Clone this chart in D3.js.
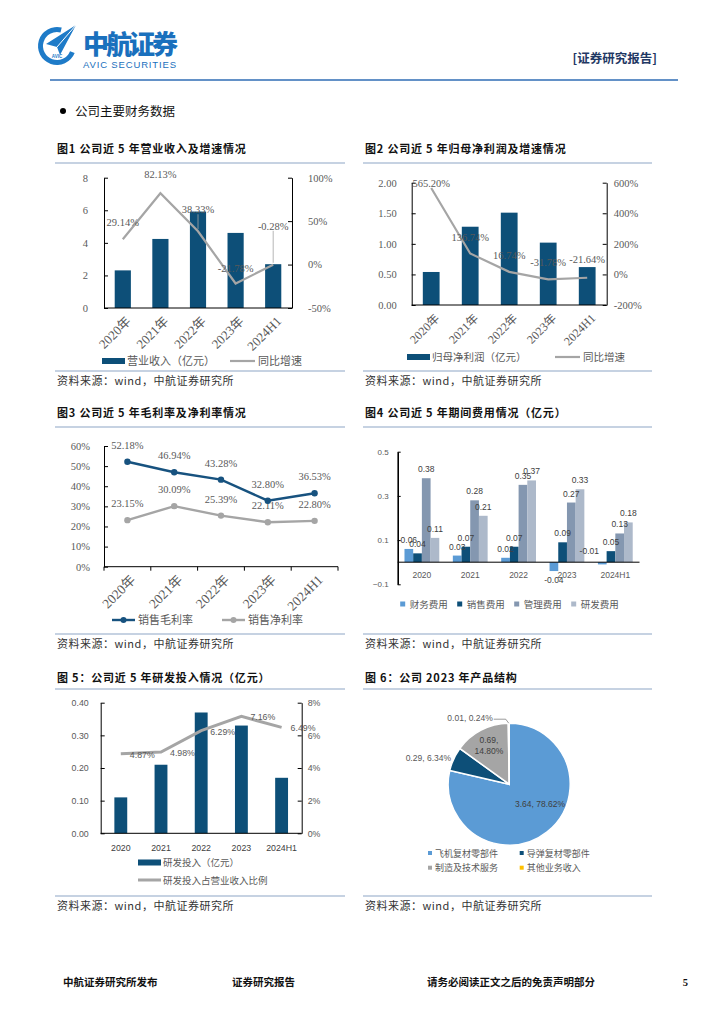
<!DOCTYPE html>
<html>
<head>
<meta charset="utf-8">
<script src="https://cdn.jsdelivr.net/npm/d3@7"></script>
<style>
  body { margin: 0; background: #fff; }
</style>
</head>
<body>
<svg id="page" width="724" height="1024"></svg>
<script>
// ---- data ----
const years = ["2020年", "2021年", "2022年", "2023年", "2024H1"];
const periods = ["2020", "2021", "2022", "2023", "2024H1"];

const revenue = [2.31, 4.24, 5.92, 4.61, 2.69];           // 亿元
const revenueYoy = [29.14, 82.13, 38.33, -21.78, -0.28];   // %
const netProfit = [0.54, 1.28, 1.51, 1.02, 0.62];          // 亿元
const netProfitYoy = [565.20, 136.74, 16.74, -31.78, -21.64];
const grossMargin = [52.18, 46.94, 43.28, 32.80, 36.53];
const netMargin = [23.15, 30.09, 25.39, 22.11, 22.80];

const expenseNames = ["财务费用", "销售费用", "管理费用", "研发费用"];
const financeExp = [0.06, 0.03, 0.02, -0.04, -0.01];
const sellingExp = [0.04, 0.07, 0.07, 0.09, 0.05];
const adminExp = [0.38, 0.28, 0.35, 0.27, 0.13];
const rdExp = [0.11, 0.21, 0.37, 0.33, 0.18];

const rdInput = [0.11, 0.21, 0.37, 0.33, 0.17];
const rdRatio = [4.87, 4.98, 6.29, 7.16, 6.49];

const productNames = ["飞机复材零部件", "导弹复材零部件", "制造及技术服务", "其他业务收入"];
const productRevenue = [3.64, 0.29, 0.69, 0.01];
const productShare = [78.62, 6.34, 14.80, 0.24];

// ---- styles ----
const SERIF = "'Liberation Serif','Noto Sans CJK SC',serif";
const SANS = "'Liberation Sans','Noto Sans CJK SC',sans-serif";
const CJK = "'Noto Sans CJK SC',sans-serif";
const NAVY = "#0d4f78", GRAY = "#a5a5a5", RULE = "#8ea6c6", TXT = "#595959";
const LBLUE = "#5b9bd5", BGRAY = "#8497b0", LGRAY = "#adb9ca", GOLD = "#ffc000";

const svg = d3.select("#page");

// ---- page header ----
const logo = svg.append("g");
logo.append("path")
    .attr("transform", "translate(57,46)")
    .attr("d", d3.arc().innerRadius(14).outerRadius(19).startAngle(0.62 * Math.PI).endAngle(2.08 * Math.PI)())
    .attr("fill", "#1e7bc8");
logo.append("path")
    .attr("d", "M46,44 L76,25 L60,55 L57,47 Z")
    .attr("fill", "#1e7bc8");
logo.append("path")
    .attr("d", "M57,47 L76,25")
    .attr("stroke", "#fff").attr("stroke-width", 1);
logo.append("text").attr("x", 57).attr("y", 58).attr("text-anchor", "middle")
    .attr("font-family", SANS).attr("font-size", 4.5).attr("font-weight", 700)
    .attr("fill", "#1e7bc8").text("AVIC");

svg.append("text").attr("x", 83).attr("y", 54)
    .attr("font-family", CJK).attr("font-weight", 900).attr("font-size", 26)
    .attr("textLength", 95).attr("fill", "#1a70bd").text("中航证券");
svg.append("text").attr("x", 83).attr("y", 68)
    .attr("font-family", SANS).attr("font-size", 9.5).attr("textLength", 93)
    .attr("fill", "#1a70bd").text("AVIC SECURITIES");
svg.append("text").attr("x", 657).attr("y", 63).attr("text-anchor", "end")
    .attr("font-family", CJK).attr("font-weight", 700).attr("font-size", 12.5)
    .attr("fill", "#1f3864").text("[证券研究报告]");
svg.append("line").attr("x1", 50).attr("x2", 678).attr("y1", 80).attr("y2", 80)
    .attr("stroke", "#2f6cb5").attr("stroke-width", 1.5);

svg.append("circle").attr("cx", 63).attr("cy", 111).attr("r", 3).attr("fill", "#000");
svg.append("text").attr("x", 75).attr("y", 116)
    .attr("font-family", CJK).attr("font-size", 12.5).attr("fill", "#111").text("公司主要财务数据");

// ---- footer ----
[["中航证券研究所发布", 63, "start"], ["证券研究报告", 232, "start"],
 ["请务必阅读正文之后的免责声明部分", 427, "start"], ["5", 688, "end"]].forEach(([t, x, a]) => {
  svg.append("text").attr("x", x).attr("y", 986).attr("text-anchor", a)
      .attr("font-family", SERIF).attr("font-weight", 700).attr("font-size", 10.5)
      .attr("fill", "#111").text(t);
});

// ---- panel frame: title, rules, source ----
function frame(x0, x1, titleY, ruleY, footY, title) {
  svg.append("text").attr("x", x0 + 2).attr("y", titleY + 4)
      .attr("font-family", CJK).attr("font-weight", 700).attr("font-size", 11)
      .attr("letter-spacing", 0.8).attr("fill", "#111").text(title);
  [ruleY, footY].forEach(y => {
    svg.append("line").attr("x1", x0).attr("x2", x1).attr("y1", y).attr("y2", y)
        .attr("stroke", RULE).attr("stroke-width", 1.2);
  });
  svg.append("text").attr("x", x0 + 2).attr("y", footY + 14)
      .attr("font-family", CJK).attr("font-size", 11).attr("letter-spacing", 0.5).attr("fill", "#333")
      .text("资料来源：wind，中航证券研究所");
}

function styleAxis(g, font, size) {
  g.select(".domain").attr("stroke", "#000");
  g.selectAll(".tick line").attr("stroke", "#000");
  g.selectAll(".tick text").attr("font-family", font).attr("font-size", size).attr("fill", TXT);
}

function rotatedLabels(x, cats, y0, font, size) {
  cats.forEach(c => {
    const cx = x(c) + x.bandwidth() / 2;
    svg.append("text")
        .attr("transform", `translate(${cx + 9},${y0 + 14}) rotate(-45)`)
        .attr("text-anchor", "end")
        .attr("font-family", font).attr("font-size", size).attr("fill", TXT)
        .text(c);
  });
}

// ---- bar + yoy line (figures 1 and 2) ----
function barLine(o) {
  const x = d3.scaleBand().domain(years).range([o.left, o.right]);
  const y = d3.scaleLinear().domain(o.barDomain).range([o.bottom, o.top]);
  const y2 = d3.scaleLinear().domain(o.lineDomain).range([o.bottom, o.top]);
  const bw = x.step() * 0.43;

  svg.append("g").selectAll("rect").data(o.bars).join("rect")
      .attr("x", (d, i) => x(years[i]) + (x.step() - bw) / 2)
      .attr("y", d => y(d)).attr("width", bw).attr("height", d => y(0) - y(d))
      .attr("fill", NAVY);

  const ga = svg.append("g").attr("transform", `translate(${o.left},0)`)
      .call(d3.axisLeft(y).tickValues(o.barTicks).tickFormat(o.barFmt)
          .tickSizeInner(-4).tickSizeOuter(0).tickPadding(o.lpad));
  styleAxis(ga, SERIF, 10.5);
  const gb = svg.append("g").attr("transform", `translate(${o.right},0)`)
      .call(d3.axisRight(y2).tickValues(o.lineTicks).tickFormat(d => d + "%")
          .tickSizeInner(-4).tickSizeOuter(0).tickPadding(o.rpad));
  styleAxis(gb, SERIF, 10.5);
  svg.append("line").attr("x1", o.left).attr("x2", o.right)
      .attr("y1", o.bottom).attr("y2", o.bottom).attr("stroke", "#000");

  const cx = i => x(years[i]) + x.step() / 2;
  svg.append("path").datum(o.line)
      .attr("fill", "none").attr("stroke", GRAY).attr("stroke-width", 2.2)
      .attr("d", d3.line().x((d, i) => cx(i)).y(d => y2(d)));

  o.line.forEach((v, i) => {
    const px = cx(i), py = y2(v), ly = py - o.lift[i];
    if (o.lift[i] > 20) {
      svg.append("line").attr("x1", px).attr("x2", px).attr("y1", ly + 5).attr("y2", py - 2)
          .attr("stroke", GRAY).attr("stroke-width", 0.8);
    }
    svg.append("text").attr("x", px).attr("y", ly + 4).attr("text-anchor", "middle")
        .attr("font-family", SERIF).attr("font-size", 10.5).attr("fill", TXT)
        .text(v.toFixed(2) + "%");
  });

  rotatedLabels(x, years, o.bottom, SERIF, o.rotSize);

  // legend
  svg.append("rect").attr("x", o.legX).attr("y", o.legY - 3).attr("width", 23).attr("height", 6).attr("fill", NAVY);
  svg.append("text").attr("x", o.legX + 25).attr("y", o.legY + 4)
      .attr("font-family", CJK).attr("font-size", o.legSize).attr("fill", TXT).text(o.barName);
  svg.append("line").attr("x1", o.legX2).attr("x2", o.legX2 + 25).attr("y1", o.legY).attr("y2", o.legY)
      .attr("stroke", GRAY).attr("stroke-width", 2.2);
  svg.append("text").attr("x", o.legX2 + 28).attr("y", o.legY + 4)
      .attr("font-family", CJK).attr("font-size", o.legSize).attr("fill", TXT).text("同比增速");
}

frame(55, 345, 149, 163, 371, "图1  公司近 5 年营业收入及增速情况");
barLine({
  left: 104, right: 292, top: 177.7, bottom: 308,
  bars: revenue, barDomain: [0, 8], barTicks: [0, 2, 4, 6, 8], barFmt: d3.format("d"), lpad: 16,
  line: revenueYoy, lineDomain: [-50, 100], lineTicks: [-50, 0, 50, 100], rpad: 16,
  lift: [17, 19, 22, 15, 39], rotSize: 13,
  legX: 102, legX2: 230, legY: 361, legSize: 11, barName: "营业收入（亿元）"
});

frame(363, 652, 149, 163, 371, "图2  公司近 5 年归母净利润及增速情况");
barLine({
  left: 411.7, right: 606.7, top: 182.7, bottom: 305,
  bars: netProfit, barDomain: [0, 2], barTicks: [0, 0.5, 1, 1.5, 2], barFmt: d3.format(".2f"), lpad: 15,
  line: netProfitYoy, lineDomain: [-200, 600], lineTicks: [-200, 0, 200, 400, 600], rpad: 7,
  lift: [5, 17, 17, 17, 19], rotSize: 12,
  legX: 407, legX2: 555, legY: 357, legSize: 10.5, barName: "归母净利润（亿元）"
});

// ---- figure 3: margins ----
frame(55, 345, 413, 427, 634, "图3  公司近 5 年毛利率及净利率情况");
(function () {
  const left = 104, right = 338, top = 446, bottom = 566.7;
  const x = d3.scaleBand().domain(years).range([left, right]);
  const y = d3.scaleLinear().domain([0, 60]).range([bottom, top]);
  const ga = svg.append("g").attr("transform", `translate(${left},0)`)
      .call(d3.axisLeft(y).ticks(6).tickFormat(d => d + "%").tickSizeInner(-4).tickSizeOuter(0).tickPadding(14));
  styleAxis(ga, SERIF, 10.5);
  svg.append("line").attr("x1", left).attr("x2", right).attr("y1", bottom).attr("y2", bottom).attr("stroke", "#000");
  years.concat([null]).forEach((c, i) => {
    const tx = left + i * x.step();
    svg.append("line").attr("x1", tx).attr("x2", tx).attr("y1", bottom).attr("y2", bottom + 4).attr("stroke", "#000");
  });
  const cx = i => x(years[i]) + x.step() / 2;
  [[netMargin, GRAY], [grossMargin, "#17527f"]].forEach(([vals, col]) => {
    svg.append("path").datum(vals).attr("fill", "none").attr("stroke", col).attr("stroke-width", 2.4)
        .attr("d", d3.line().x((d, i) => cx(i)).y(d => y(d)));
    svg.append("g").selectAll("circle").data(vals).join("circle")
        .attr("cx", (d, i) => cx(i)).attr("cy", d => y(d)).attr("r", 3.2).attr("fill", col);
    vals.forEach((v, i) => {
      svg.append("text").attr("x", cx(i)).attr("y", y(v) - 13).attr("text-anchor", "middle")
          .attr("font-family", SERIF).attr("font-size", 10.5).attr("fill", TXT).text(v.toFixed(2) + "%");
    });
  });
  rotatedLabels(x, years, bottom, SERIF, 13.5);
  [["销售毛利率", "#17527f", 112], ["销售净利率", GRAY, 222]].forEach(([t, col, lx]) => {
    svg.append("line").attr("x1", lx).attr("x2", lx + 23).attr("y1", 620).attr("y2", 620)
        .attr("stroke", col).attr("stroke-width", 2.4);
    svg.append("circle").attr("cx", lx + 11.5).attr("cy", 620).attr("r", 3).attr("fill", col);
    svg.append("text").attr("x", lx + 26).attr("y", 624)
        .attr("font-family", CJK).attr("font-size", 11).attr("fill", TXT).text(t);
  });
})();

// ---- figure 4: period expenses ----
frame(363, 652, 413, 427, 634, "图4  公司近 5 年期间费用情况（亿元）");
(function () {
  const left = 397.7, right = 639.5, top = 451.7, bottom = 584.3;
  const series = [financeExp, sellingExp, adminExp, rdExp];
  const colors = [LBLUE, NAVY, BGRAY, LGRAY];
  const x0 = d3.scaleBand().domain(periods).range([left, right]);
  const x1 = d3.scaleBand().domain(expenseNames).range([0, x0.step()]).paddingInner(0).paddingOuter(0.78);
  const y = d3.scaleLinear().domain([-0.1, 0.5]).range([bottom, top]);

  series.forEach((vals, s) => {
    svg.append("g").selectAll("rect").data(vals).join("rect")
        .attr("x", (d, i) => x0(periods[i]) + x1(expenseNames[s]))
        .attr("y", d => y(Math.max(0, d))).attr("width", x1.bandwidth())
        .attr("height", d => Math.abs(y(d) - y(0))).attr("fill", colors[s]);
  });
  series.forEach((vals, s) => {
    vals.forEach((v, i) => {
      let bx = x0(periods[i]) + x1(expenseNames[s]) + x1.bandwidth() / 2;
      let by = v >= 0 ? y(v) - 6 : y(v) + 12;
      // very small negative bar: Excel pushes the label above the axis, to the left
      if (v < 0 && v > -0.02) { bx -= 13; by = y(0) - 8; }
      svg.append("text").attr("x", bx).attr("y", by)
          .attr("text-anchor", "middle").attr("font-family", SANS).attr("font-size", 8.5)
          .attr("fill", "#404040").text(v.toFixed(2));
    });
  });
  svg.append("line").attr("x1", left).attr("x2", right).attr("y1", y(0)).attr("y2", y(0)).attr("stroke", "#000");
  const ga = svg.append("g").attr("transform", `translate(${left},0)`)
      .call(d3.axisLeft(y).tickValues([-0.1, 0.1, 0.3, 0.5]).tickFormat(d3.format("")).tickSizeInner(-3).tickSizeOuter(0).tickPadding(9));
  styleAxis(ga, SANS, 8);
  ga.select(".domain").attr("stroke-width", 1.6);
  periods.forEach(p => {
    svg.append("text").attr("x", x0(p) + x0.step() / 2).attr("y", 578).attr("text-anchor", "middle")
        .attr("font-family", SANS).attr("font-size", 8.5).attr("fill", TXT).text(p);
  });
  expenseNames.forEach((n, s) => {
    const lx = 402.7 + s * 57;
    svg.append("rect").attr("x", lx - 2.5).attr("y", 601.5).attr("width", 5).attr("height", 5).attr("fill", colors[s]);
    svg.append("text").attr("x", lx + 7).attr("y", 608)
        .attr("font-family", CJK).attr("font-size", 9.5).attr("fill", TXT).text(n);
  });
})();

// ---- figure 5: R&D input ----
frame(55, 345, 678, 689, 896, "图 5：公司近 5 年研发投入情况（亿元）");
(function () {
  const left = 100.7, right = 301.7, top = 702.7, bottom = 833.3;
  const x = d3.scaleBand().domain(periods).range([left, right]);
  const y = d3.scaleLinear().domain([0, 0.4]).range([bottom, top]);
  const y2 = d3.scaleLinear().domain([0, 8]).range([bottom, top]);
  const bw = x.step() * 0.32;
  svg.append("g").selectAll("rect").data(rdInput).join("rect")
      .attr("x", (d, i) => x(periods[i]) + (x.step() - bw) / 2)
      .attr("y", d => y(d)).attr("width", bw).attr("height", d => y(0) - y(d)).attr("fill", NAVY);
  const ga = svg.append("g").attr("transform", `translate(${left},0)`)
      .call(d3.axisLeft(y).ticks(4).tickFormat(d3.format(".2f")).tickSizeInner(-4).tickSizeOuter(0).tickPadding(12));
  styleAxis(ga, SANS, 8.8);
  const gb = svg.append("g").attr("transform", `translate(${right},0)`)
      .call(d3.axisRight(y2).ticks(4).tickFormat(d => d + "%").tickSizeInner(-4).tickSizeOuter(0).tickPadding(6));
  styleAxis(gb, SANS, 8.8);
  svg.append("line").attr("x1", left).attr("x2", right).attr("y1", bottom).attr("y2", bottom).attr("stroke", "#000");
  const cx = i => x(periods[i]) + x.step() / 2;
  svg.append("path").datum(rdRatio).attr("fill", "none").attr("stroke", GRAY).attr("stroke-width", 3)
      .attr("d", d3.line().x((d, i) => cx(i)).y(d => y2(d)));
  rdRatio.forEach((v, i) => {
    svg.append("text").attr("x", cx(i) + 9).attr("y", y2(v) + 4)
        .attr("font-family", SANS).attr("font-size", 8.8).attr("fill", TXT).text(v.toFixed(2) + "%");
  });
  periods.forEach(p => {
    svg.append("text").attr("x", x(p) + x.step() / 2).attr("y", 851).attr("text-anchor", "middle")
        .attr("font-family", SANS).attr("font-size", 8.8).attr("fill", "#404040").text(p);
  });
  svg.append("rect").attr("x", 138).attr("y", 859.5).attr("width", 23).attr("height", 6).attr("fill", NAVY);
  svg.append("text").attr("x", 163).attr("y", 866)
      .attr("font-family", CJK).attr("font-size", 9.5).attr("fill", TXT).text("研发投入（亿元）");
  svg.append("line").attr("x1", 138).attr("x2", 161).attr("y1", 880).attr("y2", 880)
      .attr("stroke", GRAY).attr("stroke-width", 3);
  svg.append("text").attr("x", 163).attr("y", 884)
      .attr("font-family", CJK).attr("font-size", 9.5).attr("fill", TXT).text("研发投入占营业收入比例");
})();

// ---- figure 6: product structure pie ----
frame(363, 652, 678, 689, 896, "图 6：公司 2023 年产品结构");
(function () {
  const cx = 509.2, cy = 784.2, r = 61;
  const colors = [LBLUE, NAVY, GRAY, GOLD];
  const pie = d3.pie().sort(null).value(d => d)(productShare);
  const arc = d3.arc().innerRadius(0).outerRadius(r);
  const g = svg.append("g").attr("transform", `translate(${cx},${cy})`);
  g.selectAll("path").data(pie).join("path")
      .attr("d", arc).attr("fill", (d, i) => colors[i])
      .attr("stroke", "#fff").attr("stroke-width", 1.5);

  const lab = i => productRevenue[i].toFixed(2) + ", " + productShare[i].toFixed(2) + "%";
  const mid = d => (d.startAngle + d.endAngle) / 2;
  const at = (a, rr) => [Math.sin(a) * rr, -Math.cos(a) * rr];
  // large slice: inside
  let p = at(mid(pie[0]), r * 0.6);
  g.append("text").attr("x", p[0] + 8).attr("y", p[1] - 6).attr("text-anchor", "middle")
      .attr("font-family", SANS).attr("font-size", 8.5).attr("fill", "#404040").text(lab(0));
  // missile parts: just outside, right aligned
  p = at(mid(pie[1]), r * 1.03);
  g.append("text").attr("x", p[0] - 1).attr("y", p[1] + 3).attr("text-anchor", "end")
      .attr("font-family", SANS).attr("font-size", 8.5).attr("fill", TXT).text(lab(1));
  // services: inside, two lines
  p = at(mid(pie[2]), r * 0.72);
  g.append("text").attr("x", p[0]).attr("y", p[1] - 2).attr("text-anchor", "middle")
      .attr("font-family", SANS).attr("font-size", 8.5).attr("fill", "#404040")
      .selectAll("tspan").data([productRevenue[2].toFixed(2) + ",", productShare[2].toFixed(2) + "%"]).join("tspan")
      .attr("x", p[0]).attr("dy", (d, i) => i ? 11 : 0).text(d => d);
  // others: leader line to the top
  p = at(mid(pie[3]), r);
  g.append("polyline")
      .attr("points", [[p[0], p[1]], [p[0] - 3, p[1] - 4], [p[0] - 15, p[1] - 4]].map(q => q.join(",")).join(" "))
      .attr("fill", "none").attr("stroke", TXT).attr("stroke-width", 0.6);
  g.append("text").attr("x", p[0] - 16).attr("y", p[1] - 2).attr("text-anchor", "end")
      .attr("font-family", SANS).attr("font-size", 8.5).attr("fill", TXT).text(lab(3));

  productNames.forEach((n, i) => {
    const lx = 430 + (i % 2) * 91.7, ly = 853 + Math.floor(i / 2) * 14.7;
    svg.append("rect").attr("x", lx - 2).attr("y", ly - 2).attr("width", 4).attr("height", 4).attr("fill", colors[i]);
    svg.append("text").attr("x", lx + 5).attr("y", ly + 3.5)
        .attr("font-family", CJK).attr("font-size", 9).attr("fill", TXT).text(n);
  });
})();
</script>
</body>
</html>
